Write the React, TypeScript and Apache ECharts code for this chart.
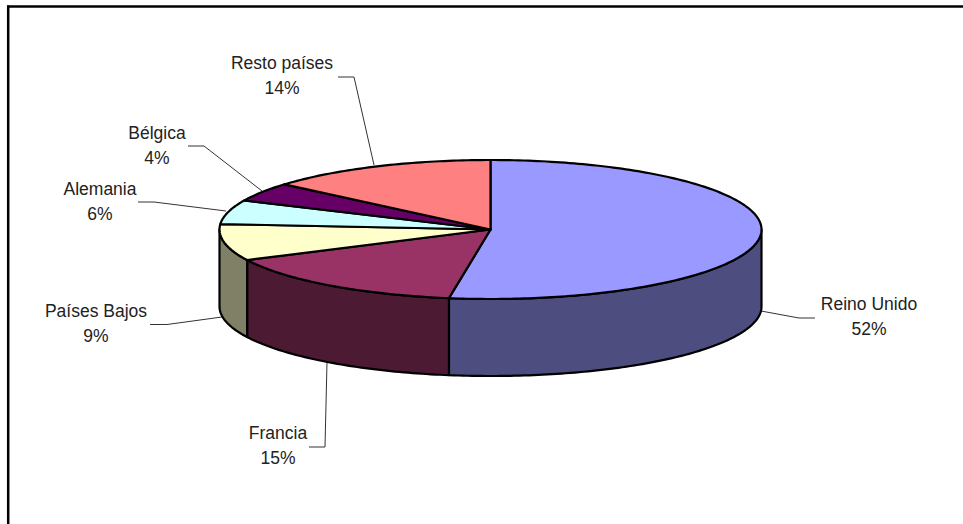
import React, { useEffect, useRef } from "react";
import * as echarts from "echarts";

const categories = ["Reino Unido", "Francia", "Países Bajos", "Alemania", "Bélgica", "Resto países"];
const shares = [52.45, 15.3, 8.5, 5.6, 4.4, 13.75];
const topColors = ["#9999FF", "#993366", "#FFFFCC", "#CCFFFF", "#660066", "#FF8080"];
const wallColors = ["#4D4D80", "#4D1A33", "#808066", "#668080", "#330033", "#804040"];

// Projection of the disc on the page
const CX = 490.5;
const CY = 229.5;
const RX = 271;
const RY = 69.5;
const DEPTH = 77;

// Label placement: text centre and leader polyline, by category
const labelLayout = [
  { x: 869, y: 304, line: [[761, 311], [799, 318], [815, 318]] },
  { x: 278, y: 433, line: [[327, 362], [325, 447], [309, 447]] },
  { x: 96, y: 311, line: [[222, 317], [167, 324.5], [150, 324.5]] },
  { x: 100, y: 189, line: [[226, 211], [154, 202], [138, 202]] },
  { x: 157, y: 133, line: [[262, 191], [204, 146], [188, 146]] },
  { x: 282, y: 63, line: [[374, 165], [354, 77], [338, 77]] },
];

const FONT = "'Liberation Sans', Arial, sans-serif";
const FONT_SIZE = 17.5;
const TEXT_COLOR = "#222222";

const total = shares.reduce((a, b) => a + b, 0);
const bounds = shares.reduce<number[]>((acc, v) => [...acc, acc[acc.length - 1] + (v / total) * 360], [0]);

const pt = (deg: number, dy = 0): number[] => {
  const r = (deg * Math.PI) / 180;
  return [CX + RX * Math.sin(r), CY - RY * Math.cos(r) + dy];
};

const arc = (a: number, b: number, dy = 0): number[][] => {
  const n = Math.max(2, Math.ceil(Math.abs(b - a)));
  const out: number[][] = [];
  for (let i = 0; i <= n; i++) out.push(pt(a + ((b - a) * i) / n, dy));
  return out;
};

const renderWall = (params: any) => {
  const i = params.dataIndex;
  const a = Math.max(bounds[i], 90);
  const b = Math.min(bounds[i + 1], 270);
  if (b <= a) return { type: "group", children: [] };
  return {
    type: "polygon",
    shape: { points: [...arc(a, b), ...arc(b, a, DEPTH)] },
    style: { fill: wallColors[i], stroke: "#000000", lineWidth: 2.2, lineJoin: "round" },
  };
};

const renderTop = (params: any) => {
  const i = params.dataIndex;
  return {
    type: "polygon",
    shape: { points: [[CX, CY], ...arc(bounds[i], bounds[i + 1])] },
    style: { fill: topColors[i], stroke: "#000000", lineWidth: 2.2, lineJoin: "round" },
  };
};

const graphics: any[] = [
  { type: "line", shape: { x1: 7, y1: 6.5, x2: 963, y2: 6.5 }, style: { stroke: "#000000", lineWidth: 2.5 } },
  { type: "line", shape: { x1: 8.2, y1: 5.5, x2: 8.2, y2: 524 }, style: { stroke: "#000000", lineWidth: 2.5 } },
];
categories.forEach((name, i) => {
  const l = labelLayout[i];
  graphics.push({
    type: "polyline",
    shape: { points: l.line },
    style: { fill: "none", stroke: "#333333", lineWidth: 1 },
  });
  [name, `${Math.round(shares[i])}%`].forEach((text, row) => {
    graphics.push({
      type: "text",
      x: l.x,
      y: l.y + row * 25,
      style: {
        text,
        font: `${FONT_SIZE}px ${FONT}`,
        fill: TEXT_COLOR,
        textAlign: "center",
        textVerticalAlign: "middle",
      },
    });
  });
});

export default function App() {
  const ref = useRef<HTMLDivElement>(null);
  useEffect(() => {
    document.body.style.margin = "0";
    const chart = echarts.init(ref.current!, null, { renderer: "svg" });
    chart.setOption({
      animation: false,
      backgroundColor: "#FFFFFF",
      graphic: graphics,
      series: [
        { type: "custom", coordinateSystem: "none", data: shares, renderItem: renderWall, z: 2, silent: true },
        { type: "custom", coordinateSystem: "none", data: shares, renderItem: renderTop, z: 3, silent: true },
      ],
    });
    return () => chart.dispose();
  }, []);
  return <div ref={ref} style={{ width: 963, height: 524 }} />;
}
